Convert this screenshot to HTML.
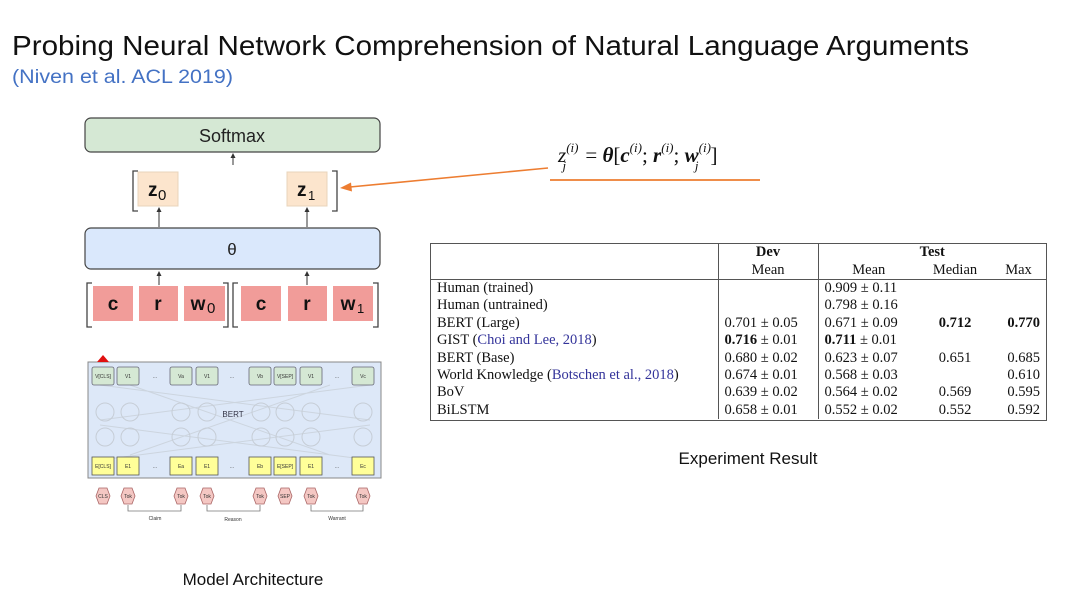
<!DOCTYPE html>
<html><head><meta charset="utf-8"><style>
body{margin:0;width:1080px;height:600px;background:#fff;position:relative;overflow:hidden;font-family:"Liberation Sans",sans-serif}
.a{position:absolute}
table{border-collapse:collapse;font-family:"Liberation Serif",serif;font-size:14.5px;color:#111;table-layout:fixed}
td{padding:0 6px;height:17.4px;line-height:17px;white-space:nowrap}
.r{text-align:right}.c{text-align:center}
.bl{border-left:1px solid #555}
.lk{color:#33339a}
</style></head><body>
<svg class="a" style="left:0;top:0" width="1080" height="600">
<text x="12" y="55" font-family="Liberation Sans" font-size="28" fill="#111" textLength="957" lengthAdjust="spacingAndGlyphs">Probing Neural Network Comprehension of Natural Language Arguments</text>
<text x="12" y="83" font-family="Liberation Sans" font-size="19" fill="#4472c4" textLength="221" lengthAdjust="spacingAndGlyphs">(Niven et al. ACL 2019)</text>
<rect x="85" y="118" width="295" height="34" rx="6" fill="#d5e8d4" stroke="#444" stroke-width="1.2"/>
<text x="232" y="142" text-anchor="middle" font-size="18" fill="#222">Softmax</text>
<line x1="233" y1="165" x2="233" y2="156" stroke="#333"/><path d="M230.5,158 L233,153 L235.5,158Z" fill="#333"/>
<path d="M138,171 h-5 v40 h5 M332,171 h5 v40 h-5" fill="none" stroke="#444" stroke-width="1.3"/>
<rect x="138" y="172" width="40" height="34" fill="#fce5cd" stroke="#e8d4bb"/>
<text x="148" y="196" font-size="19" font-weight="bold" fill="#111">z</text><text x="158" y="200" font-size="15" fill="#111">0</text>
<rect x="287" y="172" width="40" height="34" fill="#fce5cd" stroke="#e8d4bb"/>
<text x="297" y="196" font-size="19" font-weight="bold" fill="#111">z</text><text x="308" y="200" font-size="13" fill="#111">1</text>
<line x1="159" y1="227" x2="159" y2="211" stroke="#333"/><path d="M156.5,212 L159,207 L161.5,212Z" fill="#333"/>
<line x1="307" y1="227" x2="307" y2="211" stroke="#333"/><path d="M304.5,212 L307,207 L309.5,212Z" fill="#333"/>
<rect x="85" y="228" width="295" height="41" rx="6" fill="#dae8fc" stroke="#444" stroke-width="1.2"/>
<text x="232" y="255" text-anchor="middle" font-size="17" fill="#222">θ</text>
<line x1="159" y1="285" x2="159" y2="274" stroke="#333"/><path d="M156.5,276 L159,271 L161.5,276Z" fill="#333"/>
<line x1="307" y1="285" x2="307" y2="274" stroke="#333"/><path d="M304.5,276 L307,271 L309.5,276Z" fill="#333"/>
<path d="M92,283 h-5 v44 h5 M223,283 h5 v44 h-5 M238,283 h-5 v44 h5 M373,283 h5 v44 h-5" fill="none" stroke="#444" stroke-width="1.3"/>
<g fill="#f19c99"><rect x="93" y="286" width="40" height="35"/><rect x="139" y="286" width="39" height="35"/><rect x="184" y="286" width="41" height="35"/><rect x="241" y="286" width="40" height="35"/><rect x="288" y="286" width="39" height="35"/><rect x="333" y="286" width="40" height="35"/></g>
<g font-size="19" font-weight="bold" fill="#111" text-anchor="middle">
<text x="113" y="310">c</text><text x="158" y="310">r</text><text x="198" y="310">w</text><text x="261" y="310">c</text><text x="307" y="310">r</text><text x="348" y="310">w</text></g>
<text x="207" y="313" font-size="15" fill="#111">0</text><text x="357" y="313" font-size="13" fill="#111">1</text>
<line x1="548" y1="168" x2="350" y2="187" stroke="#ed7d31" stroke-width="1.6"/>
<path d="M340,188 L351,182.5 L352,191.5Z" fill="#ed7d31"/>
<line x1="550" y1="180" x2="760" y2="180" stroke="#ed7d31" stroke-width="1.8"/>
<text x="558" y="162" font-family="Liberation Serif" font-size="21" font-style="italic" fill="#111">z<tspan font-size="13" dy="-10">(i)</tspan><tspan font-size="13" dx="-16" dy="18">j</tspan><tspan font-style="normal" dx="14" dy="-8"> = </tspan><tspan font-weight="bold">θ</tspan><tspan font-style="normal">[</tspan><tspan font-weight="bold">c</tspan><tspan font-size="13" dy="-10">(i)</tspan><tspan font-style="normal" dy="10">; </tspan><tspan font-weight="bold">r</tspan><tspan font-size="13" dy="-10">(i)</tspan><tspan font-style="normal" dy="10">; </tspan><tspan font-weight="bold">w</tspan><tspan font-size="13" dy="-10">(i)</tspan><tspan font-size="13" dx="-16" dy="18">j</tspan><tspan font-style="normal" dx="12" dy="-8">]</tspan></text>
<rect x="88" y="362" width="293" height="116" fill="#dde8f8" stroke="#888"/>
<g stroke="#c8cfd8" stroke-width="1" fill="none" opacity="0.8">
<path d="M100,385 L370,420 M100,420 L370,385 M100,425 L370,460 M100,460 L370,425 M130,385 L330,455 M330,385 L130,455"/>
</g>
<g fill="none" stroke="#c6cdd6">
<circle cx="105" cy="412" r="9"/><circle cx="130" cy="412" r="9"/><circle cx="181" cy="412" r="9"/><circle cx="207" cy="412" r="9"/><circle cx="261" cy="412" r="9"/><circle cx="285" cy="412" r="9"/><circle cx="311" cy="412" r="9"/><circle cx="363" cy="412" r="9"/>
<circle cx="105" cy="437" r="9"/><circle cx="130" cy="437" r="9"/><circle cx="181" cy="437" r="9"/><circle cx="207" cy="437" r="9"/><circle cx="261" cy="437" r="9"/><circle cx="285" cy="437" r="9"/><circle cx="311" cy="437" r="9"/><circle cx="363" cy="437" r="9"/>
</g>
<text x="233" y="417" text-anchor="middle" font-size="8" fill="#334">BERT</text>
<g fill="#d5e8d4" stroke="#667" stroke-width="0.8">
<rect x="92" y="367" width="22" height="18" rx="2"/><rect x="117" y="367" width="22" height="18" rx="2"/><rect x="170" y="367" width="22" height="18" rx="2"/><rect x="196" y="367" width="22" height="18" rx="2"/><rect x="249" y="367" width="22" height="18" rx="2"/><rect x="274" y="367" width="22" height="18" rx="2"/><rect x="300" y="367" width="22" height="18" rx="2"/><rect x="352" y="367" width="22" height="18" rx="2"/>
</g>
<g fill="#ffff99" stroke="#555" stroke-width="0.8">
<rect x="92" y="457" width="22" height="18"/><rect x="117" y="457" width="22" height="18"/><rect x="170" y="457" width="22" height="18"/><rect x="196" y="457" width="22" height="18"/><rect x="249" y="457" width="22" height="18"/><rect x="274" y="457" width="22" height="18"/><rect x="300" y="457" width="22" height="18"/><rect x="352" y="457" width="22" height="18"/>
</g>
<g font-size="5" fill="#333" text-anchor="middle">
<text x="103" y="378">V[CLS]</text><text x="128" y="378">V1</text><text x="181" y="378">Va</text><text x="207" y="378">V1</text><text x="260" y="378">Vb</text><text x="285" y="378">V[SEP]</text><text x="311" y="378">V1</text><text x="363" y="378">Vc</text>
<text x="103" y="468">E[CLS]</text><text x="128" y="468">E1</text><text x="181" y="468">Ea</text><text x="207" y="468">E1</text><text x="260" y="468">Eb</text><text x="285" y="468">E[SEP]</text><text x="311" y="468">E1</text><text x="363" y="468">Ec</text>
<text x="155" y="378">...</text><text x="232" y="378">...</text><text x="337" y="378">...</text><text x="155" y="468">...</text><text x="232" y="468">...</text><text x="337" y="468">...</text>
</g>
<path d="M97,362 L103,355 L109,362Z" fill="#e01010"/>
<g fill="#f4c7c3" stroke="#a66" stroke-width="0.8">
<path d="M96,496 l3,-8 h8 l3,8 l-3,8 h-8Z"/><path d="M121,496 l3,-8 h8 l3,8 l-3,8 h-8Z"/><path d="M174,496 l3,-8 h8 l3,8 l-3,8 h-8Z"/><path d="M200,496 l3,-8 h8 l3,8 l-3,8 h-8Z"/><path d="M253,496 l3,-8 h8 l3,8 l-3,8 h-8Z"/><path d="M278,496 l3,-8 h8 l3,8 l-3,8 h-8Z"/><path d="M304,496 l3,-8 h8 l3,8 l-3,8 h-8Z"/><path d="M356,496 l3,-8 h8 l3,8 l-3,8 h-8Z"/>
</g>
<g font-size="5" fill="#333" text-anchor="middle"><text x="103" y="498">CLS</text><text x="128" y="498">Tok</text><text x="181" y="498">Tok</text><text x="207" y="498">Tok</text><text x="260" y="498">Tok</text><text x="285" y="498">SEP</text><text x="311" y="498">Tok</text><text x="363" y="498">Tok</text>
<text x="155" y="520">Claim</text><text x="233" y="521">Reason</text><text x="337" y="520">Warrant</text></g>
<path d="M128,505 v6 h53 v-6 M207,505 v6 h53 v-6 M311,505 v6 h52 v-6" fill="none" stroke="#777" stroke-width="0.8"/>
<text x="253" y="585" text-anchor="middle" font-size="17" fill="#111">Model Architecture</text>
<text x="748" y="464" text-anchor="middle" font-size="17" fill="#111">Experiment Result</text>
</svg>
<div class="a" style="left:430px;top:243px;width:617px;height:178px;border:1px solid #555;box-sizing:border-box">
<table style="width:615px">
<colgroup><col style="width:287px"><col style="width:100px"><col style="width:101px"><col style="width:72px"><col style="width:55px"></colgroup>
<tr><td></td><td class="bl c" style="font-weight:bold">Dev</td><td class="bl c" colspan="3" style="font-weight:bold">Test</td></tr>
<tr style="border-bottom:1px solid #555"><td></td><td class="bl c">Mean</td><td class="bl c">Mean</td><td class="c">Median</td><td class="c">Max</td></tr>
<tr><td>Human (trained)</td><td class="bl"></td><td class="bl">0.909 ± 0.11</td><td></td><td></td></tr>
<tr><td>Human (untrained)</td><td class="bl"></td><td class="bl">0.798 ± 0.16</td><td></td><td></td></tr>
<tr><td>BERT (Large)</td><td class="bl">0.701 ± 0.05</td><td class="bl">0.671 ± 0.09</td><td class="c"><b>0.712</b></td><td class="r"><b>0.770</b></td></tr>
<tr><td>GIST (<span class="lk">Choi and Lee, 2018</span>)</td><td class="bl"><b>0.716</b> ± 0.01</td><td class="bl"><b>0.711</b> ± 0.01</td><td></td><td></td></tr>
<tr><td>BERT (Base)</td><td class="bl">0.680 ± 0.02</td><td class="bl">0.623 ± 0.07</td><td class="c">0.651</td><td class="r">0.685</td></tr>
<tr><td>World Knowledge (<span class="lk">Botschen et al., 2018</span>)</td><td class="bl">0.674 ± 0.01</td><td class="bl">0.568 ± 0.03</td><td></td><td class="r">0.610</td></tr>
<tr><td>BoV</td><td class="bl">0.639 ± 0.02</td><td class="bl">0.564 ± 0.02</td><td class="c">0.569</td><td class="r">0.595</td></tr>
<tr><td>BiLSTM</td><td class="bl">0.658 ± 0.01</td><td class="bl">0.552 ± 0.02</td><td class="c">0.552</td><td class="r">0.592</td></tr>
</table></div>
</body></html>
